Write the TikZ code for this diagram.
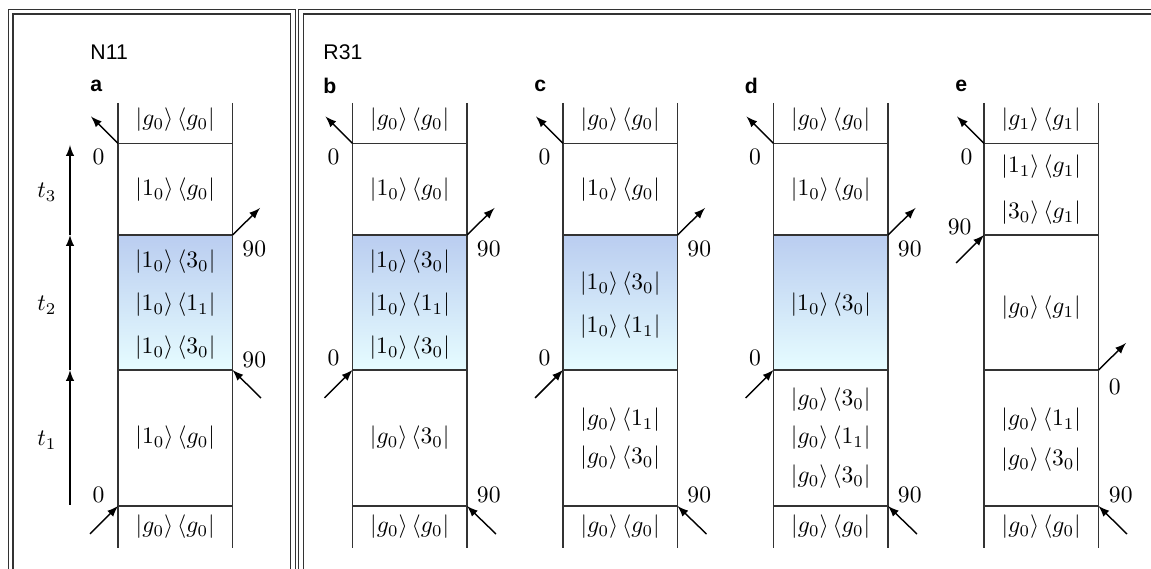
\documentclass[tikz,border=0pt]{standalone}
\usepackage{fontspec}
\newfontfamily\tagfont{Liberation Sans}
\usepackage{tikz}
\usetikzlibrary{arrows}
\usetikzlibrary{positioning}

\definecolor{exctop}{RGB}{186,205,240}
\definecolor{excbot}{RGB}{230,252,255}
\newcommand{\kb}[2]{$\left|#1\right\rangle\left\langle #2\right|$}

\tikzset{
  col/.style={draw=black!80, line width=0.65pt},
  excited/.style={top color=exctop, bottom color=excbot},
  pulse/.style={-latex, semithick},
  ket/.style={inner sep=0pt},
  phase/.style={inner sep=0pt},
  paneltag/.style={font=\tagfont\fontsize{9}{10}\selectfont, anchor=west, inner sep=0pt},
  frame/.style={draw=black!80, double, double distance=1.3pt, line width=0.6pt}
}

\begin{document}
\begin{tikzpicture}[x=0.424pt,y=-0.424pt]
  \useasboundingbox (0,0) rectangle (1151,569);
  \clip (0,0) rectangle (1151,569);
  % outer frames
  \draw[frame] (10.75,11.75) rectangle (293,620);
  \draw[frame] (301,11.75) rectangle (1220,620);

  \node[paneltag] (n11) at (90,52.5) {N11};
  \node[paneltag] (r31) at (323,52.5) {R31};
  \node[paneltag] (taga) at (90,86) {\bfseries a};
  \node[paneltag] (tagb) at (323,86) {\bfseries b};
  \node[paneltag] (tagc) at (534,86) {\bfseries c};
  \node[paneltag] (tagd) at (744.5,86) {\bfseries d};
  \node[paneltag] (tage) at (955,86) {\bfseries e};

  % time axis
  \coordinate (t0) at (70,505);
  \coordinate (t1) at (70,370);
  \coordinate (t2) at (70,235);
  \coordinate (t3) at (70,145);
  \draw[pulse] (t0) -- (t1);
  \draw[pulse] (t1) -- (t2);
  \draw[pulse] (t2) -- (t3);
  \node (lt1) at (47,440) {$t_1$};
  \node (lt2) at (47,305) {$t_2$};
  \node (lt3) at (47,192) {$t_3$};

  % ---- a ----
  \shade[excited] (118,235) rectangle (232.5,370);
  \draw[col] (118,103) -- (118,548) (232.5,103) -- (232.5,548)
    (118,143.5) -- (232.5,143.5) (118,235) -- (232.5,235)
    (118,370) -- (232.5,370) (118,506) -- (232.5,506);
  \node[ket] (a1) at (175.25,120) {\kb{g_0}{g_0}};
  \node[ket] (a2) at (175.25,190) {\kb{1_0}{g_0}};
  \node[ket] (a3) at (175.25,262) {\kb{1_0}{3_0}};
  \node[ket] (a4) at (175.25,305) {\kb{1_0}{1_1}};
  \node[ket] (a5) at (175.25,348) {\kb{1_0}{3_0}};
  \node[ket] (a6) at (175.25,438) {\kb{1_0}{g_0}};
  \node[ket] (a7) at (175.25,527) {\kb{g_0}{g_0}};
  \coordinate (ap1) at (118,143.5);   \coordinate (ap1x) at (91,116.5);
  \coordinate (ap2) at (232.5,235);   \coordinate (ap2x) at (260,208);
  \coordinate (ap3) at (232.5,370);   \coordinate (ap3x) at (261,398);
  \coordinate (ap4) at (118,506);     \coordinate (ap4x) at (90,534);
  \draw[pulse] (ap1) -- (ap1x);
  \draw[pulse] (ap2) -- (ap2x);
  \draw[pulse] (ap3x) -- (ap3);
  \draw[pulse] (ap4x) -- (ap4);
  \node[phase,anchor=east] (aph1) at (105,157) {$0$};
  \node[phase,anchor=west] (aph2) at (242,249) {$90$};
  \node[phase,anchor=west] (aph3) at (242,360) {$90$};
  \node[phase,anchor=east] (aph4) at (105,495) {$0$};

  % ---- b ----
  \shade[excited] (352.5,235) rectangle (467,370);
  \draw[col] (352.5,103) -- (352.5,548) (467,103) -- (467,548)
    (352.5,143.5) -- (467,143.5) (352.5,235) -- (467,235)
    (352.5,370) -- (467,370) (352.5,506) -- (467,506);
  \node[ket] (b1) at (409.75,120) {\kb{g_0}{g_0}};
  \node[ket] (b2) at (409.75,190) {\kb{1_0}{g_0}};
  \node[ket] (b3) at (409.75,262) {\kb{1_0}{3_0}};
  \node[ket] (b4) at (409.75,305) {\kb{1_0}{1_1}};
  \node[ket] (b5) at (409.75,348) {\kb{1_0}{3_0}};
  \node[ket] (b6) at (409.75,438) {\kb{g_0}{3_0}};
  \node[ket] (b7) at (409.75,527) {\kb{g_0}{g_0}};
  \coordinate (bp1) at (352.5,143.5); \coordinate (bp1x) at (325.5,116.5);
  \coordinate (bp2) at (467,235);     \coordinate (bp2x) at (494.5,208);
  \coordinate (bp3) at (352.5,370);   \coordinate (bp3x) at (324.5,398);
  \coordinate (bp4) at (467,506);     \coordinate (bp4x) at (496,534);
  \draw[pulse] (bp1) -- (bp1x);
  \draw[pulse] (bp2) -- (bp2x);
  \draw[pulse] (bp3x) -- (bp3);
  \draw[pulse] (bp4x) -- (bp4);
  \node[phase,anchor=east] (bph1) at (340,157) {$0$};
  \node[phase,anchor=west] (bph2) at (476.5,249) {$90$};
  \node[phase,anchor=east] (bph3) at (340,358) {$0$};
  \node[phase,anchor=west] (bph4) at (476.5,495) {$90$};

  % ---- c ----
  \shade[excited] (563,235) rectangle (677.5,370);
  \draw[col] (563,103) -- (563,548) (677.5,103) -- (677.5,548)
    (563,143.5) -- (677.5,143.5) (563,235) -- (677.5,235)
    (563,370) -- (677.5,370) (563,506) -- (677.5,506);
  \node[ket] (c1) at (620.25,120) {\kb{g_0}{g_0}};
  \node[ket] (c2) at (620.25,190) {\kb{1_0}{g_0}};
  \node[ket] (c3) at (620.25,284) {\kb{1_0}{3_0}};
  \node[ket] (c4) at (620.25,327) {\kb{1_0}{1_1}};
  \node[ket] (c5) at (620.25,420) {\kb{g_0}{1_1}};
  \node[ket] (c6) at (620.25,458) {\kb{g_0}{3_0}};
  \node[ket] (c7) at (620.25,527) {\kb{g_0}{g_0}};
  \coordinate (cp1) at (563,143.5);   \coordinate (cp1x) at (536,116.5);
  \coordinate (cp2) at (677.5,235);   \coordinate (cp2x) at (705,208);
  \coordinate (cp3) at (563,370);     \coordinate (cp3x) at (535,398);
  \coordinate (cp4) at (677.5,506);   \coordinate (cp4x) at (706.5,534);
  \draw[pulse] (cp1) -- (cp1x);
  \draw[pulse] (cp2) -- (cp2x);
  \draw[pulse] (cp3x) -- (cp3);
  \draw[pulse] (cp4x) -- (cp4);
  \node[phase,anchor=east] (cph1) at (551,157) {$0$};
  \node[phase,anchor=west] (cph2) at (687,249) {$90$};
  \node[phase,anchor=east] (cph3) at (551,358) {$0$};
  \node[phase,anchor=west] (cph4) at (687,495) {$90$};

  % ---- d ----
  \shade[excited] (773.5,235) rectangle (888,370);
  \draw[col] (773.5,103) -- (773.5,548) (888,103) -- (888,548)
    (773.5,143.5) -- (888,143.5) (773.5,235) -- (888,235)
    (773.5,370) -- (888,370) (773.5,506) -- (888,506);
  \node[ket] (d1) at (830.75,120) {\kb{g_0}{g_0}};
  \node[ket] (d2) at (830.75,190) {\kb{1_0}{g_0}};
  \node[ket] (d3) at (830.75,305) {\kb{1_0}{3_0}};
  \node[ket] (d4) at (830.75,400) {\kb{g_0}{3_0}};
  \node[ket] (d5) at (830.75,438) {\kb{g_0}{1_1}};
  \node[ket] (d6) at (830.75,477) {\kb{g_0}{3_0}};
  \node[ket] (d7) at (830.75,527) {\kb{g_0}{g_0}};
  \coordinate (dp1) at (773.5,143.5); \coordinate (dp1x) at (746.5,116.5);
  \coordinate (dp2) at (888,235);     \coordinate (dp2x) at (915.5,208);
  \coordinate (dp3) at (773.5,370);   \coordinate (dp3x) at (745.5,398);
  \coordinate (dp4) at (888,506);     \coordinate (dp4x) at (917,534);
  \draw[pulse] (dp1) -- (dp1x);
  \draw[pulse] (dp2) -- (dp2x);
  \draw[pulse] (dp3x) -- (dp3);
  \draw[pulse] (dp4x) -- (dp4);
  \node[phase,anchor=east] (dph1) at (761.5,157) {$0$};
  \node[phase,anchor=west] (dph2) at (897.5,249) {$90$};
  \node[phase,anchor=east] (dph3) at (761.5,358) {$0$};
  \node[phase,anchor=west] (dph4) at (897.5,495) {$90$};

  % ---- e ----
  \draw[col] (984,103) -- (984,548) (1098.5,103) -- (1098.5,548)
    (984,143.5) -- (1098.5,143.5) (984,235) -- (1098.5,235)
    (984,370) -- (1098.5,370) (984,506) -- (1098.5,506);
  \node[ket] (e1) at (1041.25,120) {\kb{g_1}{g_1}};
  \node[ket] (e2) at (1041.25,167) {\kb{1_1}{g_1}};
  \node[ket] (e3) at (1041.25,213) {\kb{3_0}{g_1}};
  \node[ket] (e4) at (1041.25,308) {\kb{g_0}{g_1}};
  \node[ket] (e5) at (1041.25,420) {\kb{g_0}{1_1}};
  \node[ket] (e6) at (1041.25,460) {\kb{g_0}{3_0}};
  \node[ket] (e7) at (1041.25,527) {\kb{g_0}{g_0}};
  \coordinate (ep1) at (984,143.5);   \coordinate (ep1x) at (957,116.5);
  \coordinate (ep2) at (984,235);     \coordinate (ep2x) at (956,263);
  \coordinate (ep3) at (1098.5,370);  \coordinate (ep3x) at (1126,343);
  \coordinate (ep4) at (1098.5,506);  \coordinate (ep4x) at (1127,534);
  \draw[pulse] (ep1) -- (ep1x);
  \draw[pulse] (ep2x) -- (ep2);
  \draw[pulse] (ep3) -- (ep3x);
  \draw[pulse] (ep4x) -- (ep4);
  \node[phase,anchor=east] (eph1) at (973,157) {$0$};
  \node[phase,anchor=east] (eph2) at (972,227) {$90$};
  \node[phase,anchor=west] (eph3) at (1108.5,387) {$0$};
  \node[phase,anchor=west] (eph4) at (1108.5,495) {$90$};
\end{tikzpicture}
\end{document}
